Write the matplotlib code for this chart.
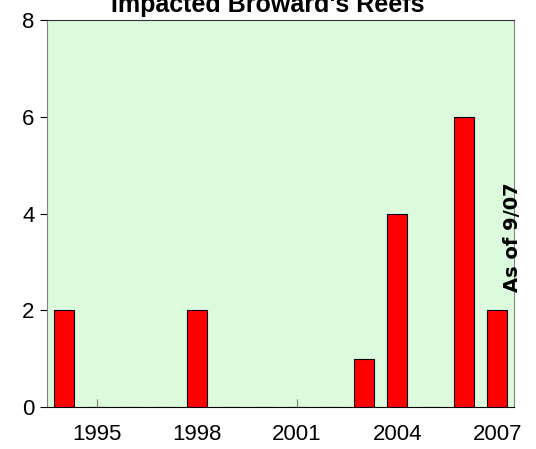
import matplotlib.pyplot as plt

years = list(range(1994, 2008))
reefs = [2, 0, 0, 0, 2, 0, 0, 0, 0, 1, 4, 0, 6, 2]
tick_years = [1995, 1998, 2001, 2004, 2007]
y_ticks = [0, 2, 4, 6, 8]

plt.rcParams['font.family'] = ['Liberation Sans', 'DejaVu Sans']

fig = plt.figure(figsize=(5.36, 4.49), dpi=100)
ax = fig.add_axes([47 / 536, 1 - 407 / 449, 467 / 536, 387 / 449])
ax.set_facecolor('#dcfadc')

ax.bar(years, reefs, width=0.6, color='#ff0000', edgecolor='black', linewidth=0.8, zorder=3)

ax.set_xlim(1993.5, 2007.5)
ax.set_ylim(0, 8)
ax.set_xticks(tick_years)
ax.set_yticks(y_ticks)
ax.tick_params(axis='x', direction='in', length=6, labelsize=16, pad=12, color='gray')
ax.tick_params(axis='y', direction='out', length=5, labelsize=16, pad=4)

for side in ['left', 'right']:
    ax.spines[side].set_color('gray')
ax.spines['top'].set_color('#333333')
ax.spines['bottom'].set_color('black')

# annotation to the right of the last bar
ax.text(2007.45, 3.5, 'As of 9/07', rotation=90, ha='center', va='center',
        fontsize=14, fontweight='bold', family='DejaVu Sans')

fig.text(268 / 536, 1 - 12 / 449, "Impacted Broward's Reefs", ha='center', va='baseline',
         fontsize=18, fontweight='bold')

fig.savefig('out.png', dpi=100)
